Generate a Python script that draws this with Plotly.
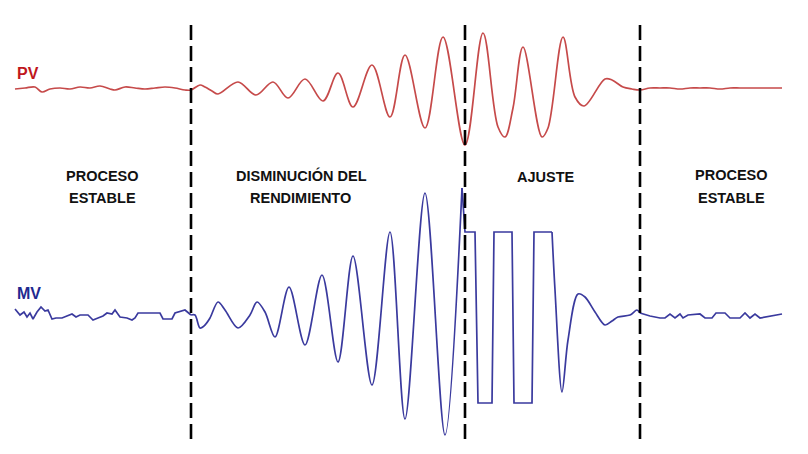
import plotly.graph_objects as go

H = 454          # reference height (value scale)
OFF = 8          # page body margin

# Time axis samples (arbitrary time units) and PV signal level
pv_t = [15, 25, 35, 42, 50, 60, 70, 80, 90, 100, 110, 115, 125, 135, 145, 155, 165, 175, 185, 191,
        200, 205, 212, 218, 238, 256, 273, 288, 305, 323, 338, 353, 372, 390, 405, 425, 443, 465,
        483, 498, 505, 513, 523, 542, 548, 563, 575, 584, 605, 612, 623, 632, 640,
        650, 660, 670, 680, 690, 700, 710, 720, 730, 740, 750, 760, 770, 782]
pv_px = [89, 88, 87, 92, 89, 88, 89, 87, 88, 86, 89, 90, 87, 88, 89, 88, 87, 88, 90, 90,
         85, 87, 91, 94, 82, 95, 82, 98, 79, 101, 73, 107, 65, 117, 55, 128, 37, 145,
         33, 127, 137, 108, 47, 137, 128, 37, 97, 106, 79, 80, 87, 89, 90,
         88, 88, 88, 89, 88, 88, 88, 89, 88, 88, 88, 88, 88, 88]
pv = [H - v for v in pv_px]

# MV signal, by regime
mv_stable1_t = [15, 20, 24, 27, 30, 33, 37, 41, 45, 48, 52, 56, 62, 67, 72, 76, 80, 88, 93, 98,
                103, 107, 112, 115, 120, 127, 132, 135, 138, 160, 163, 172, 175, 185, 188, 191]
mv_stable1_px = [309, 315, 312, 317, 313, 319, 312, 307, 311, 310, 319, 318, 318, 316, 314, 317, 315, 315, 320, 318,
                 316, 313, 314, 310, 317, 318, 320, 318, 313, 313, 319, 319, 313, 310, 313, 315]
mv_osc_t = [191, 195, 200, 205, 210, 218, 225, 238, 250, 257, 265, 275, 289, 305, 322, 338, 353,
            372, 390, 405, 425, 445, 462]
mv_osc_px = [315, 315, 328, 325, 318, 302, 310, 328, 315, 302, 312, 337, 287, 345, 275, 362, 256,
             385, 232, 419, 193, 435, 188]
mv_tune_t = [462, 465, 475, 478, 492, 494, 512, 514, 532, 534, 552]
mv_tune_px = [188, 232, 232, 403, 403, 232, 232, 403, 403, 232, 232]
mv_settle_t = [552, 555, 562, 568, 578, 585, 595, 605, 612, 618, 630, 637, 640]
mv_settle_px = [232, 290, 392, 340, 294, 297, 312, 325, 321, 317, 315, 310, 313]
mv_stable2_t = [640, 650, 660, 665, 670, 675, 680, 683, 688, 700, 705, 712, 716, 725, 730, 740,
                745, 750, 755, 760, 782]
mv_stable2_px = [313, 316, 318, 318, 314, 318, 314, 318, 315, 314, 318, 318, 313, 313, 318, 318,
                 313, 318, 314, 318, 314]

phase_bounds = [191, 465, 640]

PV_COL = "#c64a4a"
MV_COL = "#3a3a9e"

fig = go.Figure()
fig.add_trace(go.Scatter(x=pv_t, y=pv, mode="lines",
                         line=dict(color=PV_COL, width=1.7, shape="spline", smoothing=1.0),
                         hoverinfo="skip"))
segs = [(mv_stable1_t, mv_stable1_px, "linear"), (mv_osc_t, mv_osc_px, "spline"),
        (mv_tune_t, mv_tune_px, "linear"), (mv_settle_t, mv_settle_px, "spline"),
        (mv_stable2_t, mv_stable2_px, "linear")]
for t, px, shp in segs:
    ln = dict(color=MV_COL, width=1.7, shape=shp)
    if shp == "spline":
        ln["smoothing"] = 0.9
    fig.add_trace(go.Scatter(x=t, y=[H - v for v in px], mode="lines", line=ln, hoverinfo="skip"))

for b in phase_bounds:
    fig.add_shape(type="line", x0=b, x1=b, y0=H - 25, y1=H - 440, xref="x", yref="y",
                  line=dict(color="black", width=2.6, dash="15px,6px"))

font_b = "Liberation Sans, Arial, sans-serif"
labels = [
    ("<b>PROCESO</b>", 102, 176), ("<b>ESTABLE</b>", 102, 198),
    ("<b>DISMINUCIÓN DEL</b>", 301, 175), ("<b>RENDIMIENTO</b>", 300, 198),
    ("<b>AJUSTE</b>", 546, 177),
    ("<b>PROCESO</b>", 731, 175), ("<b>ESTABLE</b>", 731, 198),
]
for txt, x, y in labels:
    fig.add_annotation(x=x, y=H - y, text=txt, showarrow=False, xanchor="center", yanchor="middle",
                       font=dict(family=font_b, size=14.5, color="#111111"))
fig.add_annotation(x=28, y=H - 73, text="<b>PV</b>", showarrow=False, xanchor="center", yanchor="middle",
                   font=dict(family=font_b, size=16, color="#c0171c"))
fig.add_annotation(x=29, y=H - 293, text="<b>MV</b>", showarrow=False, xanchor="center", yanchor="middle",
                   font=dict(family=font_b, size=16, color="#1f2a90"))

fig.update_layout(width=808 - OFF, height=H - OFF, margin=dict(l=0, r=0, t=0, b=0),
                  paper_bgcolor="white", plot_bgcolor="white", showlegend=False,
                  xaxis=dict(range=[OFF, 808], visible=False, fixedrange=True),
                  yaxis=dict(range=[0, H - OFF], visible=False, fixedrange=True))
fig.write_html("out.html", config={"displayModeBar": False})
